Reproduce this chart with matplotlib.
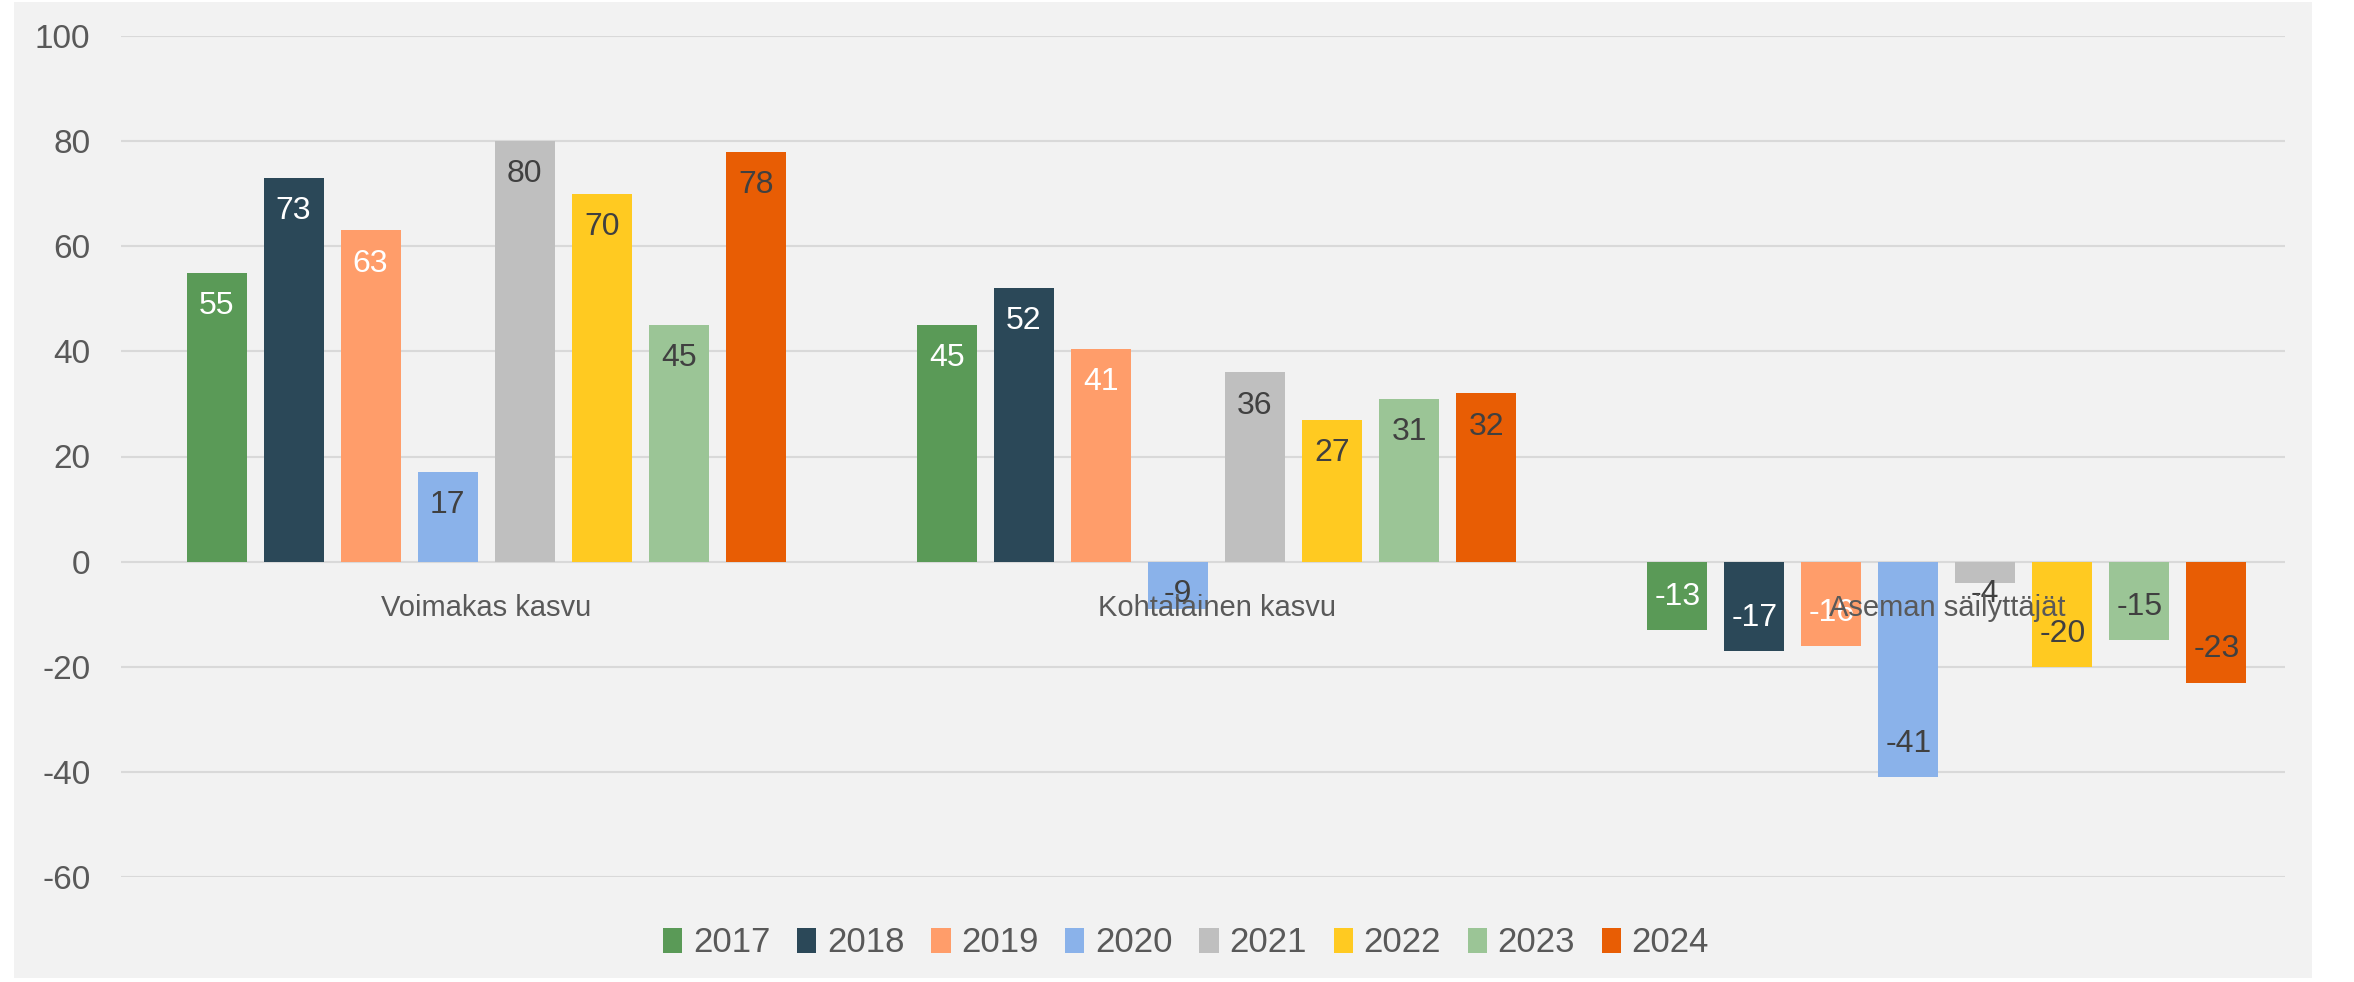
import matplotlib
matplotlib.use("Agg")
import matplotlib.pyplot as plt
from matplotlib.patches import Rectangle, Patch
import numpy as np

categories = ["Voimakas kasvu", "Kohtalainen kasvu", "Aseman säilyttäjät"]
years = ["2017", "2018", "2019", "2020", "2021", "2022", "2023", "2024"]
values = {
    "2017": [55, 45, -13],
    "2018": [73, 52, -17],
    "2019": [63, 40.5, -16],
    "2020": [17, -9, -41],
    "2021": [80, 36, -4],
    "2022": [70, 27, -20],
    "2023": [45, 31, -15],
    "2024": [78, 32, -23],
}
labels = {
    "2017": ["55", "45", "-13"],
    "2018": ["73", "52", "-17"],
    "2019": ["63", "41", "-16"],
    "2020": ["17", "-9", "-41"],
    "2021": ["80", "36", "-4"],
    "2022": ["70", "27", "-20"],
    "2023": ["45", "31", "-15"],
    "2024": ["78", "32", "-23"],
}
colors = ["#5a9a57", "#2b4858", "#ff9d6a", "#8ab2ea", "#bfbfbf", "#ffca21", "#9bc596", "#e85d04"]
label_colors = ["white", "white", "white", "#404040", "#404040", "#404040", "#404040", "#404040"]
yticks = [-60, -40, -20, 0, 20, 40, 60, 80, 100]

W, H = 2354, 982
fig = plt.figure(figsize=(W / 100, H / 100), dpi=100)
fig.patch.set_facecolor("white")
bg = Rectangle((14 / W, 4 / H), (2312 - 14) / W, (H - 6) / H,
               transform=fig.transFigure, facecolor="#f2f2f2",
               edgecolor="none", zorder=-10)
fig.add_artist(bg)

ax = fig.add_axes([121 / W, 105 / H, (2285 - 121) / W, (877 - 36) / H])
ax.set_zorder(1)
ax.set_facecolor("none")
font = "Liberation Sans"
tc = "#595959"

x = np.arange(len(categories))
step = 77 / 730
bw = 60 / 730
for i, y in enumerate(years):
    pos = x + (i - 3.5) * step
    ax.bar(pos, values[y], width=bw, color=colors[i], zorder=3, label=y)
    for px, v, lab in zip(pos, values[y], labels[y]):
        s = 1 if v >= 0 else -1
        ly = s * max(abs(v) - 6.3, 6.1)
        ax.text(px, ly, lab, ha="center", va="center", fontsize=23,
                color=label_colors[i], family=font, zorder=5)

for cx, cat in zip(x, categories):
    ax.annotate(cat, (cx, 0), xytext=(0, -33.5), textcoords="offset points",
                ha="center", va="center", fontsize=21, color=tc, family=font, zorder=6)

ax.set_xlim(-0.5, 2.463)
ax.set_ylim(-60, 100)
ax.set_yticks(yticks)
ax.set_yticklabels([str(t) for t in yticks], fontsize=24, color=tc, family=font)
ax.tick_params(axis="y", length=0, pad=22)
ax.set_xticks([])
ax.grid(axis="y", color="#d9d9d9", linewidth=1.5, zorder=1)
for sp in ax.spines.values():
    sp.set_visible(False)

handles = [Patch(facecolor=c, edgecolor="none") for c in colors]
leg = fig.legend(handles, years, loc="center", bbox_to_anchor=(1186 / W, 1 - 943 / H),
                 ncol=8, frameon=False, handlelength=0.55, handleheight=0.7,
                 handletextpad=0.3, columnspacing=0.78, prop={"family": font, "size": 25})
for t in leg.get_texts():
    t.set_color(tc)

fig.savefig("out.png", dpi=100, facecolor=fig.get_facecolor())
